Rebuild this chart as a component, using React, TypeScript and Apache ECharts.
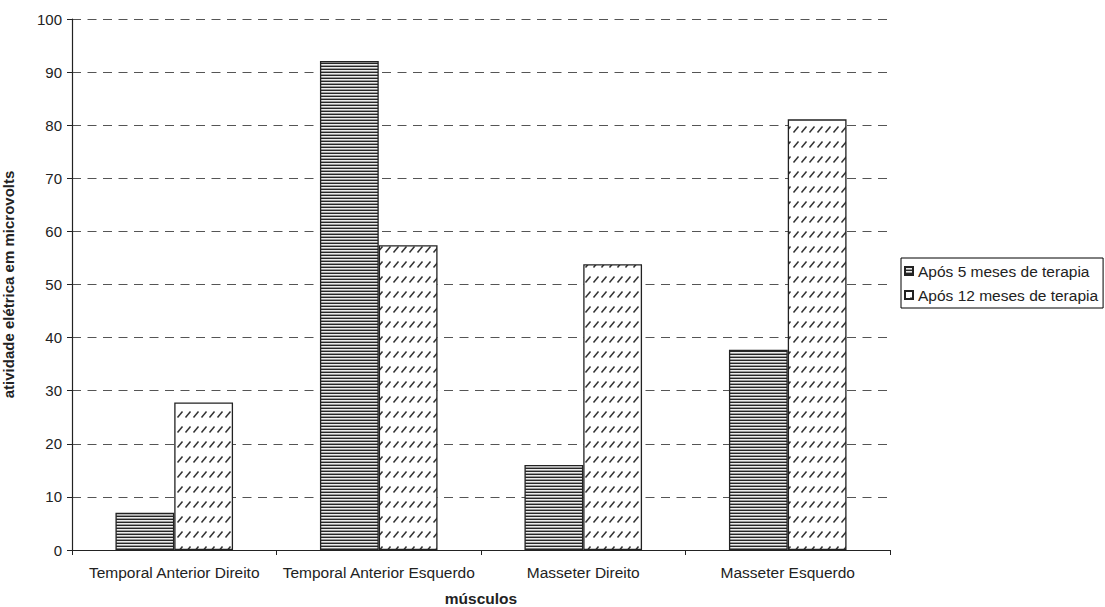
import React, { useEffect, useRef } from "react";
import * as echarts from "echarts";

const categories = [
  "Temporal Anterior Direito",
  "Temporal Anterior Esquerdo",
  "Masseter Direito",
  "Masseter Esquerdo",
];
const seriesNames = ["Após 5 meses de terapia", "Após 12 meses de terapia"];
const after5Months = [7, 92.1, 16, 37.7];
const after12Months = [27.8, 57.4, 53.8, 81.1];
const yMin = 0;
const yMax = 100;
const yInterval = 10;
const yAxisTitle = "atividade elétrica em microvolts";
const xAxisTitle = "músculos";

function stripePattern(): HTMLCanvasElement {
  const c = document.createElement("canvas");
  c.width = 4;
  c.height = 3;
  const ctx = c.getContext("2d")!;
  ctx.fillStyle = "#ececec";
  ctx.fillRect(0, 0, 4, 3);
  ctx.fillStyle = "#262626";
  ctx.fillRect(0, 0, 4, 1);
  ctx.fillStyle = "#9a9a9a";
  ctx.fillRect(0, 2, 4, 1);
  return c;
}

function hatchPattern(): HTMLCanvasElement {
  const c = document.createElement("canvas");
  c.width = 8;
  c.height = 15;
  const ctx = c.getContext("2d")!;
  ctx.fillStyle = "#ffffff";
  ctx.fillRect(0, 0, 8, 15);
  ctx.strokeStyle = "#333333";
  ctx.lineWidth = 1.5;
  ctx.beginPath();
  ctx.moveTo(1.5, 12.5);
  ctx.lineTo(6.5, 6.5);
  ctx.stroke();
  return c;
}

const FONT = "Liberation Sans, Arial, sans-serif";

export default function App() {
  const ref = useRef<HTMLDivElement>(null);
  useEffect(() => {
    if (!ref.current) return;
    const chart = echarts.init(ref.current, undefined, { renderer: "svg" });
    const s1 = stripePattern();
    const s2 = hatchPattern();
    chart.setOption({
      animation: false,
      textStyle: { fontFamily: FONT },
      grid: { left: 72, right: 215, top: 19, bottom: 57, outerBoundsMode: "none", containLabel: false },
      legend: {
        orient: "vertical",
        left: 901,
        top: 258,
        borderColor: "#000",
        borderWidth: 1,
        borderRadius: 0,
        padding: [5, 5, 5, 3],
        itemGap: 8,
        itemWidth: 8,
        itemHeight: 8,
        icon: "rect",
        textStyle: { fontSize: 15.5, color: "#222", fontFamily: FONT },
        data: seriesNames,
      },
      xAxis: {
        type: "category",
        data: categories,
        axisLine: { lineStyle: { color: "#222", width: 1.2 } },
        axisTick: { show: true, length: 5, lineStyle: { color: "#222" } },
        axisLabel: { margin: 14, fontSize: 15.5, color: "#222", fontFamily: FONT, interval: 0 },
        name: xAxisTitle,
        nameLocation: "middle",
        nameGap: 40,
        nameTextStyle: { fontSize: 15.5, fontWeight: "bold", color: "#222", fontFamily: FONT },
      },
      yAxis: {
        type: "value",
        min: yMin,
        max: yMax,
        interval: yInterval,
        axisLine: { show: true, lineStyle: { color: "#222", width: 1.2 } },
        axisTick: { show: true, length: 5, lineStyle: { color: "#222" } },
        axisLabel: { margin: 10, fontSize: 15, color: "#222", fontFamily: FONT },
        splitLine: { show: true, lineStyle: { color: "#555", type: [9, 6.5], width: 1 } },
        name: yAxisTitle,
        nameLocation: "middle",
        nameGap: 56,
        nameTextStyle: { fontSize: 15, fontWeight: "bold", color: "#222", fontFamily: FONT },
      },
      series: [
        {
          name: seriesNames[0],
          type: "bar",
          data: after5Months,
          barGap: "0%",
          barCategoryGap: "42.5%",
          itemStyle: {
            color: { image: s1, repeat: "repeat" } as any,
            borderColor: "#222",
            borderWidth: 1.3,
          },
          emphasis: { disabled: true },
        },
        {
          name: seriesNames[1],
          type: "bar",
          data: after12Months,
          barGap: "0%",
          barCategoryGap: "42.5%",
          itemStyle: {
            color: { image: s2, repeat: "repeat" } as any,
            borderColor: "#222",
            borderWidth: 1.3,
          },
          emphasis: { disabled: true },
        },
      ],
    });
    return () => chart.dispose();
  }, []);
  return (
    <div
      ref={ref}
      style={{ position: "absolute", left: 0, top: 0, width: 1105, height: 607 }}
    />
  );
}
